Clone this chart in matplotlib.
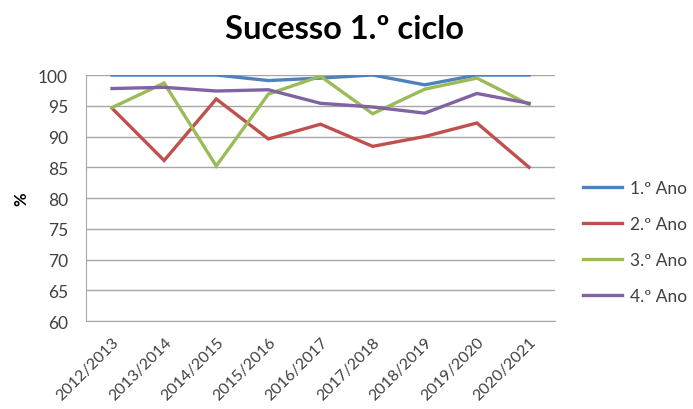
import matplotlib
matplotlib.use("Agg")
import matplotlib.pyplot as plt

plt.rcParams['font.family'] = ['Lato', 'DejaVu Sans']

anos_letivos = ["2012/2013", "2013/2014", "2014/2015", "2015/2016", "2016/2017",
                "2017/2018", "2018/2019", "2019/2020", "2020/2021"]
ano1 = [100, 100, 100, 99.1, 99.5, 100, 98.4, 100, 100]
ano2 = [94.6, 86.1, 96.1, 89.6, 92.0, 88.4, 90.0, 92.2, 85.0]
ano3 = [94.7, 98.7, 85.2, 96.9, 99.8, 93.7, 97.7, 99.5, 95.2]
ano4 = [97.8, 98.0, 97.4, 97.6, 95.4, 94.8, 93.8, 97.0, 95.4]
series_nomes = ["1.º Ano", "2.º Ano", "3.º Ano", "4.º Ano"]
cores = ["#4F81BD", "#C0504D", "#9BBB59", "#8064A2"]

fig = plt.figure(figsize=(6.93, 4.10), dpi=100)
ax = fig.add_axes([0.124, 0.2146, 0.677, 0.60])

x = list(range(len(anos_letivos)))
for vals, nome, cor in zip([ano1, ano2, ano3, ano4], series_nomes, cores):
    ax.plot(x, vals, color=cor, lw=2.4, label=nome, solid_joinstyle='miter')

ax.set_xlim(-0.5, len(anos_letivos) - 0.5)
ax.set_ylim(60, 100)
ax.set_yticks(range(60, 101, 5))
ax.set_xticks(x)
ax.set_xticklabels(anos_letivos, rotation=45, ha='right', rotation_mode='anchor',
                   fontsize=11.5, color='#404040')
ax.tick_params(axis='y', labelsize=12.5, colors='#404040', length=0, pad=13)
ax.tick_params(axis='x', length=0, pad=10)
ax.grid(axis='y', color='#A6A6A6', lw=1)
ax.set_axisbelow(True)
for s in ['top', 'right']:
    ax.spines[s].set_visible(False)
ax.spines['left'].set_color('#A6A6A6')
ax.spines['bottom'].set_color('#A6A6A6')

ax.set_ylabel('%', fontsize=12, fontweight='bold', labelpad=6)
fig.text(0.497, 0.928, 'Sucesso 1.º ciclo', ha='center', va='center',
         fontsize=23.5, fontweight='bold')

ax.legend(loc='center left', bbox_to_anchor=(1.06, 0.32), frameon=False,
          fontsize=12.5, labelspacing=1.15, handlelength=2.25, handletextpad=0.45,
          borderpad=0, borderaxespad=0, labelcolor='#404040')

fig.savefig('out.png', dpi=100)
